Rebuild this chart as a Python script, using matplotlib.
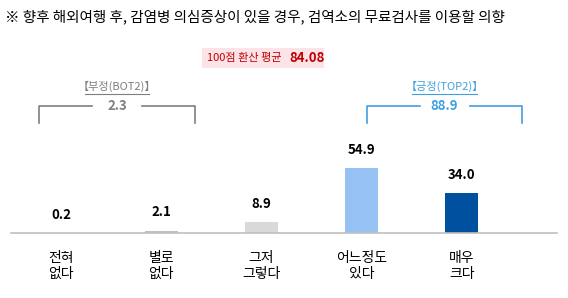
import matplotlib
matplotlib.use('Agg')
import matplotlib.pyplot as plt
from matplotlib.patches import Rectangle

plt.rcParams['font.family'] = ['Noto Sans CJK KR', 'DejaVu Sans']

# data
categories = ['전혀\n없다', '별로\n없다', '그저\n그렇다', '어느정도\n있다', '매우\n크다']
values = [0.2, 2.1, 8.9, 54.9, 34.0]
bar_colors = ['#a6a6a6', '#bfbfbf', '#d9d9d9', '#95c1f3', '#0050a0']
bot2 = 2.3
top2 = 88.9
score100 = 84.08

W, H = 568, 298
fig = plt.figure(figsize=(W / 100, H / 100), dpi=100)


def fx(px):
    return px / W


def fy(py):
    return 1 - py / H


# axes: baseline at y=233px, spans x 11..557
base = 233
ax = fig.add_axes([fx(11), fy(base), fx(557 - 11), (base - 140) / H])
ax.bar(range(len(values)), values, width=0.33, color=bar_colors)
ax.set_xlim(-0.5, 4.95)
ax.set_ylim(0, (base - 140) / 1.183)
for s in ['top', 'right', 'left']:
    ax.spines[s].set_visible(False)
ax.spines['bottom'].set_color('#bfbfbf')
ax.spines['bottom'].set_linewidth(1.2)
ax.set_yticks([])
ax.set_xticks(range(len(categories)))
ax.set_xticklabels(categories, fontsize=10, color='#000000', linespacing=1.15)
ax.tick_params(axis='x', length=0, pad=13)
for i, v in enumerate(values):
    ax.annotate(f'{v:.1f}', (i, v), xytext=(0, 8), textcoords='offset points',
                ha='center', va='bottom', fontsize=9.5, fontweight='bold', color='#000000')

# title
fig.text(fx(5), fy(17), '※ 향후 해외여행 후, 감염병 의심증상이 있을 경우, 검역소의 무료검사를 이용할 의향',
         fontsize=10.5, ha='left', va='center', color='#000000')

# red average box
fig.patches.append(Rectangle((fx(202), fy(68)), fx(122), 20 / H, transform=fig.transFigure,
                             facecolor='#fbe3e7', edgecolor='none'))
fig.text(fx(207), fy(58), '100점 환산 평균', fontsize=8, color='#c00000', ha='left', va='center')
fig.text(fx(289), fy(58), f'{score100:.2f}', fontsize=9.5, fontweight='bold', color='#c00000',
         ha='left', va='center')


def bracket(x0, x1, label, value, color):
    xc = (x0 + x1) / 2
    y_line, y_end = 106, 123
    gap = 25
    fig.lines.append(plt.Line2D([fx(x0), fx(x0), fx(xc - gap)], [fy(y_end), fy(y_line), fy(y_line)],
                                transform=fig.transFigure, color=color, lw=1.2))
    fig.lines.append(plt.Line2D([fx(xc + gap), fx(x1), fx(x1)], [fy(y_line), fy(y_line), fy(y_end)],
                                transform=fig.transFigure, color=color, lw=1.2))
    fig.text(fx(xc), fy(y_line), value, fontsize=9.5, fontweight='bold', color=color,
             ha='center', va='center')
    fig.text(fx(xc), fy(86), label, fontsize=8, color=color, ha='center', va='center')
    fig.lines.append(plt.Line2D([fx(xc - 32), fx(xc + 32)], [fy(94), fy(94)],
                                transform=fig.transFigure, color=color, lw=0.8))


bracket(39, 195, '【부정(BOT2)】', f'{bot2:.1f}', '#7f7f7f')
bracket(367, 522, '【긍정(TOP2)】', f'{top2:.1f}', '#3fa0e0')

fig.savefig('out.png', dpi=100)
